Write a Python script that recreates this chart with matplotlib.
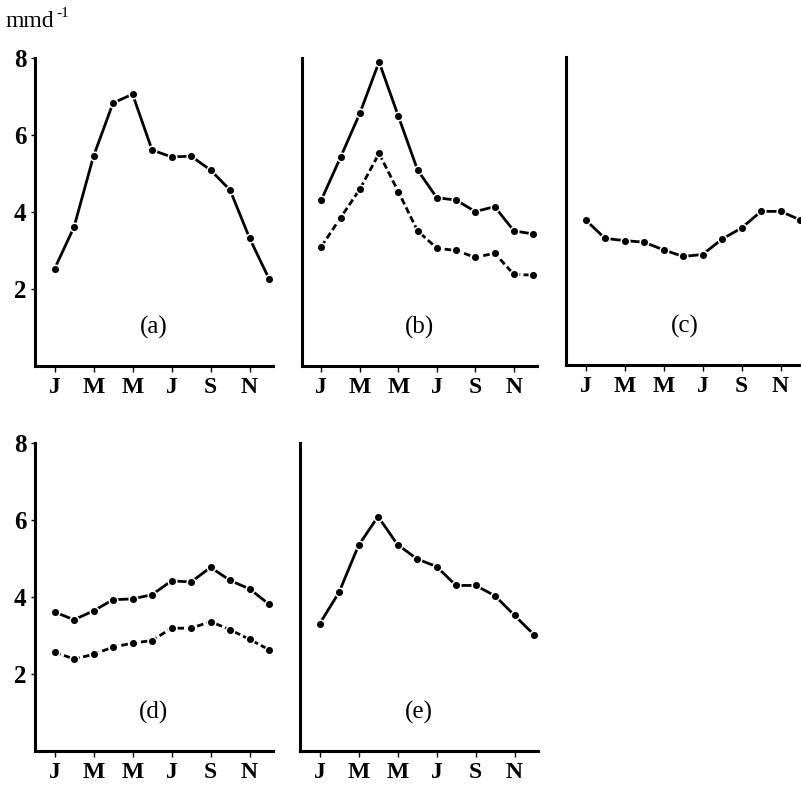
import matplotlib
matplotlib.use("Agg")
import matplotlib.pyplot as plt

plt.rcParams["font.family"] = ["Liberation Serif", "DejaVu Serif"]

months = list(range(1, 13))
month_ticks = [1, 3, 5, 7, 9, 11]
month_labels = ["J", "M", "M", "J", "S", "N"]
y_ticks = [2, 4, 6, 8]

# monthly rainfall, mm per day
a_solid = [2.52, 3.61, 5.45, 6.83, 7.06, 5.61, 5.43, 5.45, 5.09, 4.57, 3.32, 2.26]
b_solid = [4.31, 5.42, 6.56, 7.90, 6.49, 5.09, 4.37, 4.31, 4.01, 4.14, 3.51, 3.43]
b_dashed = [3.10, 3.85, 4.59, 5.52, 4.53, 3.51, 3.06, 3.00, 2.82, 2.93, 2.38, 2.36]
c_solid = [3.77, 3.29, 3.23, 3.19, 2.99, 2.82, 2.87, 3.27, 3.56, 3.99, 3.99, 3.77]
d_solid = [3.61, 3.41, 3.64, 3.93, 3.95, 4.06, 4.42, 4.39, 4.77, 4.43, 4.21, 3.81]
d_dashed = [2.57, 2.39, 2.51, 2.70, 2.80, 2.87, 3.19, 3.19, 3.36, 3.15, 2.90, 2.63]
e_solid = [3.30, 4.12, 5.34, 6.09, 5.36, 4.99, 4.79, 4.30, 4.30, 4.03, 3.52, 3.02]

W, H = 801, 789
fig = plt.figure(figsize=(W / 100, H / 100), dpi=100)


def px_axes(left, top, width, height):
    return fig.add_axes([left / W, 1 - (top + height) / H, width / W, height / H])


panels = [
    ("(a)", px_axes(35, 58, 238, 308), [a_solid], True),
    ("(b)", px_axes(302, 58, 235, 308), [b_solid, b_dashed], False),
    ("(c)", px_axes(566, 57, 238, 308), [c_solid], False),
    ("(d)", px_axes(35, 443, 238, 308), [d_solid, d_dashed], True),
    ("(e)", px_axes(300, 443, 238, 308), [e_solid], False),
]

lw = 2.0
for label, ax, series, show_y in panels:
    for i, vals in enumerate(series):
        ls = "-" if i == 0 else (0, (2.4, 1.2))
        ax.plot(months, vals, color="black", lw=lw, ls=ls, marker="o",
                ms=6.2, mfc="black", mec="white", mew=1.1, clip_on=False,
                zorder=3)
    ax.set_xlim(0, 12.2)
    ax.set_ylim(0, 8)
    for s in ("top", "right"):
        ax.spines[s].set_visible(False)
    for s in ("left", "bottom"):
        ax.spines[s].set_linewidth(2.2)
    ax.set_xticks(month_ticks)
    ax.set_xticklabels(month_labels, fontsize=17, fontweight="bold")
    ax.tick_params(axis="x", direction="out", length=4, width=1.0, pad=4)
    if show_y:
        ax.set_yticks(y_ticks)
        ax.set_yticklabels([str(v) for v in y_ticks], fontsize=18,
                           fontweight="bold")
        ax.tick_params(axis="y", direction="out", length=3, width=1.0, pad=3)
    else:
        ax.set_yticks([])
    ax.text(6.1, 1.0, label, ha="center", va="center", fontsize=18)

fig.text(5 / W, 1 - 27 / H, "mmd", fontsize=17, ha="left", va="baseline")
fig.text(56 / W, 1 - 17 / H, "-1", fontsize=11, ha="left", va="baseline")

fig.savefig("out.png", dpi=100)
